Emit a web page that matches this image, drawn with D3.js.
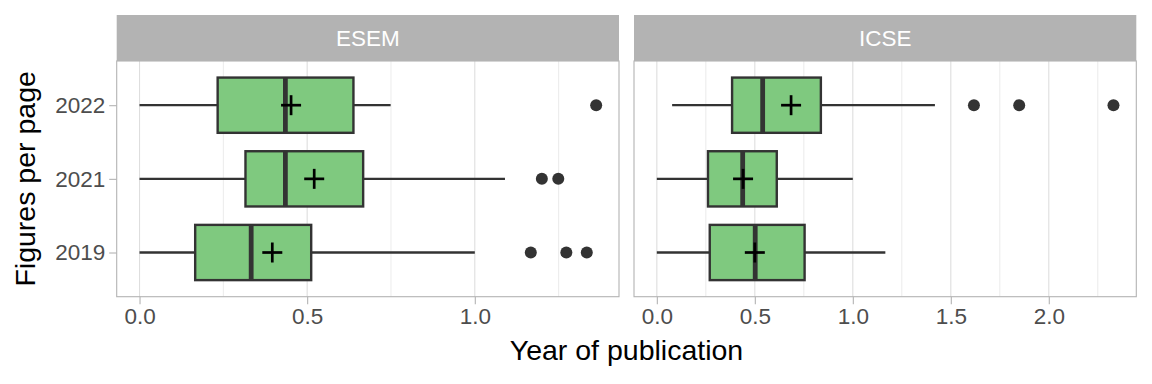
<!DOCTYPE html>
<html>
<head>
<meta charset="utf-8">
<script src="https://cdn.jsdelivr.net/npm/d3@7"></script>
<style>
  html, body { margin: 0; padding: 0; background: #ffffff; }
  svg { display: block; font-family: "Liberation Sans", Arial, Helvetica, sans-serif; }
</style>
</head>
<body>
<svg id="chart" width="1152" height="384"></svg>
<script>
// ---- data (order: 2019, 2021, 2022) ----
const years = ["2019", "2021", "2022"];
const venues = ["ESEM", "ICSE"];

const esemLow     = [0.000, 0.000, 0.000];
const esemQ1      = [0.166, 0.316, 0.233];
const esemMedian  = [0.333, 0.435, 0.435];
const esemQ3      = [0.512, 0.667, 0.638];
const esemHigh    = [1.000, 1.090, 0.749];
const esemMean    = [0.396, 0.521, 0.452];
const esemOutliers = [[1.167, 1.273, 1.334], [1.200, 1.249], [1.362]];

const icseLow     = [0.000, 0.000, 0.078];
const icseQ1      = [0.270, 0.261, 0.384];
const icseMedian  = [0.502, 0.438, 0.540];
const icseQ3      = [0.754, 0.612, 0.837];
const icseHigh    = [1.166, 1.000, 1.419];
const icseMean    = [0.500, 0.440, 0.685];
const icseOutliers = [[], [], [1.618, 1.849, 2.330]];

const esemTicks = [0, 0.5, 1.0];
const icseTicks = [0, 0.5, 1.0, 1.5, 2.0];
const tickFormat = d3.format(".1f");

const xTitle = "Year of publication";
const yTitle = "Figures per page";

// ---- build per-panel tables ----
function rows(low, q1, med, q3, high, mean, outs) {
  return years.map((y, i) => ({
    year: y, low: low[i], q1: q1[i], median: med[i], q3: q3[i],
    high: high[i], mean: mean[i], outliers: outs[i]
  }));
}
const panels = [
  { name: venues[0], data: rows(esemLow, esemQ1, esemMedian, esemQ3, esemHigh, esemMean, esemOutliers), ticks: esemTicks },
  { name: venues[1], data: rows(icseLow, icseQ1, icseMedian, icseQ3, icseHigh, icseMean, icseOutliers), ticks: icseTicks }
];

// ---- layout ----
const svg = d3.select("#chart");
const fillBox = "#7fc97f";
const dark = "#333333";
const grey70 = "#b3b3b3";
const grid = "#dedede";

const panelTop = 61, panelBottom = 296.7;
const stripTop = 15;
const panelLefts = [116.7, 634];
const panelW = 502.3;

const y = d3.scalePoint().domain(years.slice().reverse())
  .range([panelTop, panelBottom]).padding(0.6);
const step = y.step();
const boxH = step * 0.75;

panels.forEach((p, pi) => {
  const left = panelLefts[pi], right = left + panelW;
  const vals = p.data.flatMap(d => [d.low, d.high, ...d.outliers]);
  const mn = d3.min(vals), mx = d3.max(vals);
  const pad = (mx - mn) * 0.05;
  const x = d3.scaleLinear().domain([mn - pad, mx + pad]).range([left, right]);

  const g = svg.append("g");

  // strip
  g.append("rect").attr("x", left).attr("y", stripTop)
    .attr("width", panelW).attr("height", panelTop - stripTop)
    .attr("fill", grey70);
  g.append("text").attr("x", (left + right) / 2).attr("y", (stripTop + panelTop) / 2)
    .attr("text-anchor", "middle").attr("dominant-baseline", "central")
    .attr("fill", "#ffffff").attr("font-size", 22.5).text(p.name);

  // minor grid
  const major = p.ticks;
  const minor = [];
  for (let i = 0; i < major.length; i++) {
    const m = major[i] + 0.25;
    if (x(m) < right) minor.push(m);
  }
  g.selectAll(".minor").data(minor).enter().append("line")
    .attr("x1", d => x(d)).attr("x2", d => x(d))
    .attr("y1", panelTop).attr("y2", panelBottom)
    .attr("stroke", grid).attr("stroke-width", 0.6);
  g.selectAll(".major").data(major).enter().append("line")
    .attr("x1", d => x(d)).attr("x2", d => x(d))
    .attr("y1", panelTop).attr("y2", panelBottom)
    .attr("stroke", grid).attr("stroke-width", 1.1);

  p.data.forEach(d => {
    const cy = y(d.year);
    g.append("line").attr("x1", x(d.low)).attr("x2", x(d.q1))
      .attr("y1", cy).attr("y2", cy).attr("stroke", dark).attr("stroke-width", 2.3);
    g.append("line").attr("x1", x(d.q3)).attr("x2", x(d.high))
      .attr("y1", cy).attr("y2", cy).attr("stroke", dark).attr("stroke-width", 2.3);
    g.append("rect").attr("x", x(d.q1)).attr("y", cy - boxH / 2)
      .attr("width", x(d.q3) - x(d.q1)).attr("height", boxH)
      .attr("fill", fillBox).attr("stroke", dark).attr("stroke-width", 2.4);
    g.append("line").attr("x1", x(d.median)).attr("x2", x(d.median))
      .attr("y1", cy - boxH / 2).attr("y2", cy + boxH / 2)
      .attr("stroke", dark).attr("stroke-width", 4.8);
    g.selectAll(null).data(d.outliers).enter().append("circle")
      .attr("cx", v => x(v)).attr("cy", cy).attr("r", 6).attr("fill", dark);
    // mean plus
    const mx0 = x(d.mean), s = 10;
    g.append("line").attr("x1", mx0 - s).attr("x2", mx0 + s)
      .attr("y1", cy).attr("y2", cy).attr("stroke", "#000").attr("stroke-width", 2.7);
    g.append("line").attr("x1", mx0).attr("x2", mx0)
      .attr("y1", cy - s).attr("y2", cy + s).attr("stroke", "#000").attr("stroke-width", 2.7);
  });

  // panel border
  g.append("rect").attr("x", left).attr("y", panelTop)
    .attr("width", panelW).attr("height", panelBottom - panelTop)
    .attr("fill", "none").attr("stroke", grey70).attr("stroke-width", 1.1);

  // x axis
  const xa = g.append("g").attr("transform", `translate(0,${panelBottom})`)
    .call(d3.axisBottom(x).tickValues(major).tickFormat(tickFormat).tickSize(7.5).tickPadding(4));
  xa.select(".domain").remove();
  xa.selectAll(".tick line").attr("stroke", grey70).attr("stroke-width", 1.1);
  xa.selectAll(".tick text").attr("fill", "#4d4d4d").attr("font-size", 22.5)
    .attr("font-family", "Liberation Sans, Arial, sans-serif");

  if (pi === 0) {
    const ya = g.append("g").attr("transform", `translate(${left},0)`)
      .call(d3.axisLeft(y).tickSize(7.5).tickPadding(4));
    ya.select(".domain").remove();
    ya.selectAll(".tick line").attr("stroke", grey70).attr("stroke-width", 1.1);
    ya.selectAll(".tick text").attr("fill", "#4d4d4d").attr("font-size", 22.5)
      .attr("font-family", "Liberation Sans, Arial, sans-serif");
  }
});

// axis titles
svg.append("text").attr("x", (panelLefts[0] + panelLefts[1] + panelW) / 2).attr("y", 360)
  .attr("text-anchor", "middle").attr("font-size", 28.5).attr("fill", "#000").text(xTitle);
svg.append("text").attr("transform", `translate(35,${(panelTop + panelBottom) / 2}) rotate(-90)`)
  .attr("text-anchor", "middle").attr("font-size", 28.5).attr("fill", "#000").text(yTitle);
</script>
</body>
</html>
